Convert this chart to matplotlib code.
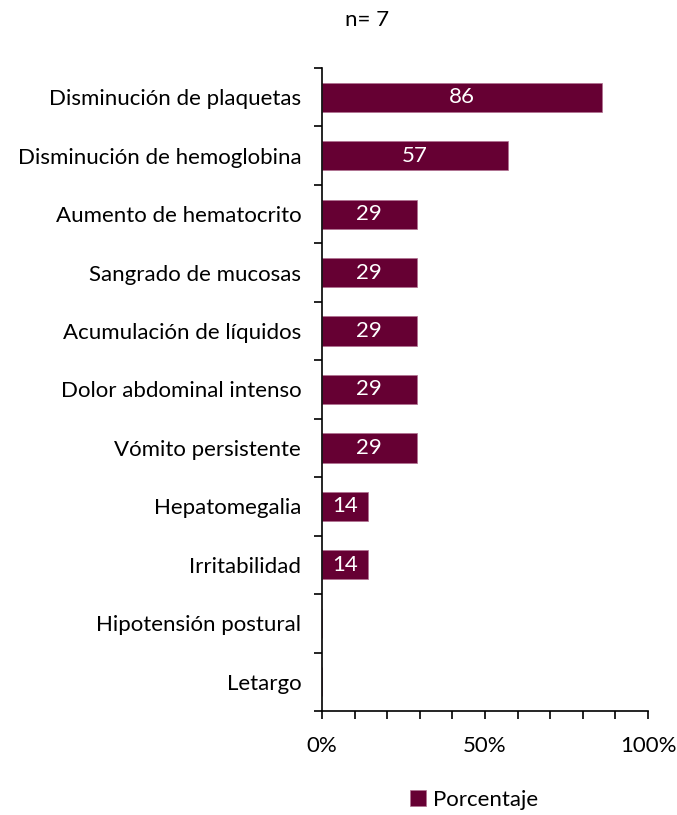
import numpy as np
import matplotlib.pyplot as plt

categorias = ["Disminución de plaquetas", "Disminución de hemoglobina",
              "Aumento de hematocrito", "Sangrado de mucosas",
              "Acumulación de líquidos", "Dolor abdominal intenso",
              "Vómito persistente", "Hepatomegalia", "Irritabilidad",
              "Hipotensión postural", "Letargo"]
porcentaje = [86, 57, 29, 29, 29, 29, 29, 14, 14, 0, 0]
titulo = "n= 7"

plt.rcParams['font.family'] = ['Lato', 'DejaVu Sans']
color_barra = "#660033"
fs = 16

fig = plt.figure(figsize=(6.77, 8.15), dpi=100)
ax = fig.add_axes([0.4756, 0.1276, 0.4815, 0.789])

n = len(categorias)
y = np.arange(n)
bars = ax.barh(y, porcentaje, height=0.5, color=color_barra,
               edgecolor="#b07090", linewidth=0.5, label="Porcentaje")
for yi, v in zip(y, porcentaje):
    if v > 0:
        ax.text(v / 2, yi, str(v), ha="center", va="center",
                color="white", fontsize=fs)

ax.set_ylim(n - 0.5, -0.5)
ax.set_xlim(0, 100)
ax.set_yticks(y)
ax.set_yticklabels(categorias, fontsize=fs)
ax.set_yticks(np.arange(n + 1) - 0.5, minor=True)
ax.tick_params(axis="y", which="major", length=0, pad=15)
ax.tick_params(axis="y", which="minor", length=6, width=1.2, direction="out")
ax.set_xticks([0, 50, 100])
ax.set_xticklabels(["0%", "50%", "100%"], fontsize=fs)
ax.set_xticks(np.arange(0, 101, 10), minor=True)
ax.tick_params(axis="x", which="both", length=6, width=1.2,
               direction="out", pad=12)

for s in ["top", "right"]:
    ax.spines[s].set_visible(False)
for s in ["left", "bottom"]:
    ax.spines[s].set_linewidth(1.2)

fig.text(367 / 677, 1 - 20 / 815, titulo, ha="center", va="center",
         fontsize=fs)
fig.legend(handles=[bars], loc="center", bbox_to_anchor=(474 / 677, 1 - 800 / 815),
           frameon=False, fontsize=fs, handlelength=0.7, handleheight=0.7,
           handletextpad=0.3)

fig.savefig("out.png", dpi=100)
